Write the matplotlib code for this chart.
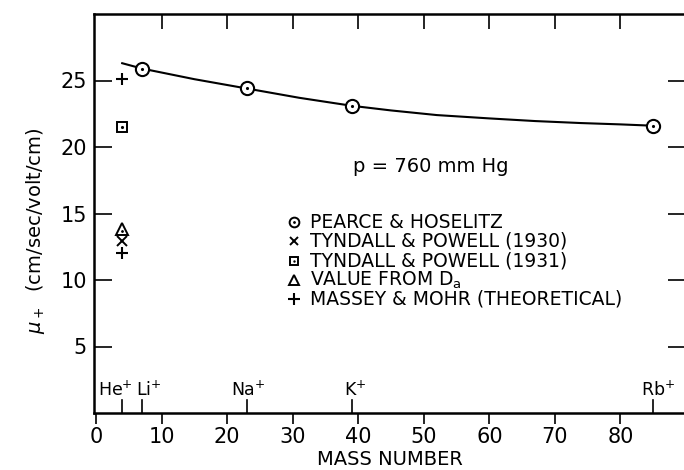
import numpy as np
import matplotlib
matplotlib.use("Agg")
import matplotlib.pyplot as plt

# Pearce & Hoselitz measurements (alkali ions)
ph_mass = [7, 23, 39, 85]
ph_mu = [25.9, 24.4, 23.1, 21.6]

# smooth curve drawn through them
curve_mass = [4, 7, 11, 15, 19, 23, 27, 31, 35, 39, 45, 52, 60, 67, 74, 80, 85]
curve_mu = [26.3, 25.9, 25.5, 25.1, 24.75, 24.4, 24.05, 23.7, 23.4, 23.1, 22.75, 22.4, 22.15, 21.95, 21.8, 21.7, 21.6]

# He+ values
he_mass = 4
tp1930_mu = [12.9]
tp1931_mu = [21.5]
da_mu = [13.8]
mm_mu = [25.1, 12.0]

ion_names = ["He", "Li", "Na", "K", "Rb"]
ion_mass = [4, 7, 23, 39, 85]
ion_label_shift = [-1.0, 1.1, 0.3, 0.5, 0.7]   # layout only

legend_labels = ["PEARCE & HOSELITZ", "TYNDALL & POWELL (1930)",
                 "TYNDALL & POWELL (1931)", "VALUE FROM D$_\\mathregular{a}$",
                 "MASSEY & MOHR (THEORETICAL)"]

plt.rcParams['font.family'] = ['DejaVu Sans']
plt.rcParams['mathtext.fontset'] = 'dejavusans'

fig = plt.figure(figsize=(6.84, 4.70), dpi=100)
ax = fig.add_axes([94/684, 57/470, 592/684, 399/470])
ax.set_xlim(-0.3, 90)
ax.set_ylim(0, 30)

ax.plot(curve_mass, curve_mu, color='black', lw=1.5, zorder=2)
ax.plot(ph_mass, ph_mu, 'o', ms=9.5, mfc='white', mec='black', mew=1.5, zorder=3)
ax.plot(ph_mass, ph_mu, '.', ms=2.5, color='black', zorder=4)

ax.plot([he_mass]*len(tp1930_mu), tp1930_mu, 'x', ms=7, color='black', mew=1.4)
ax.plot([he_mass]*len(tp1931_mu), tp1931_mu, 's', ms=7, mfc='white', mec='black', mew=1.4)
ax.plot([he_mass]*len(tp1931_mu), tp1931_mu, '.', ms=2.5, color='black')
ax.plot([he_mass]*len(da_mu), da_mu, '^', ms=8, mfc='white', mec='black', mew=1.4)
ax.plot([he_mass]*len(da_mu), [v - 0.15 for v in da_mu], '.', ms=2, color='black')
ax.plot([he_mass]*len(mm_mu), mm_mu, '+', ms=9, color='black', mew=1.5)

# legend rows
leg_x = 30.2
leg_y = [14.36, 12.93, 11.43, 10.0, 8.57]
ax.plot(leg_x, leg_y[0], 'o', ms=7, mfc='white', mec='black', mew=1.4)
ax.plot(leg_x, leg_y[0], '.', ms=2, color='black')
ax.plot(leg_x, leg_y[1], 'x', ms=6, color='black', mew=1.4)
ax.plot(leg_x, leg_y[2], 's', ms=6, mfc='white', mec='black', mew=1.4)
ax.plot(leg_x, leg_y[2], '.', ms=1.5, color='black')
ax.plot(leg_x, leg_y[3], '^', ms=7, mfc='white', mec='black', mew=1.4)
ax.plot(leg_x, leg_y[4], '+', ms=8, color='black', mew=1.5)
for yy, lab in zip(leg_y, legend_labels):
    ax.text(leg_x + 2.5, yy, lab, fontsize=13.5, va='center', ha='left')

ax.text(39.2, 18.5, 'p = 760 mm Hg', fontsize=14, va='center', ha='left')

# ion marks on the bottom axis
for name, m, dx in zip(ion_names, ion_mass, ion_label_shift):
    ax.plot([m, m], [0, 1.0], color='black', lw=1.2)
    ax.text(m + dx, 1.0, name + '$^{+}$', fontsize=12.5, ha='center', va='bottom')

ax.set_xticks(range(0, 90, 10))
ax.set_xticklabels(['0'] + [str(v) for v in range(10, 90, 10)], fontsize=15)
ax.set_yticks([5, 10, 15, 20, 25])
ax.set_yticklabels(['5', '10', '15', '20', '25'], fontsize=15)
ax.tick_params(axis='x', direction='out', length=8, width=1.2, pad=2, top=False)
ax.tick_params(axis='y', direction='in', length=13, width=1.2, right=True, pad=5)
for sp in ax.spines.values():
    sp.set_linewidth(1.8)

# top ticks point inward
sec = ax.secondary_xaxis('top')
sec.set_xticks(range(10, 90, 10))
sec.tick_params(direction='in', length=11, width=1.2, labeltop=False)
sec.spines['top'].set_visible(False)

ax.set_xlabel('MASS NUMBER', fontsize=14, labelpad=2)
ax.set_ylabel(r'$\mu_+$  (cm/sec/volt/cm)', fontsize=14)
ax.yaxis.set_label_coords(-0.08, 0.456)

fig.savefig('out.png', dpi=100)
